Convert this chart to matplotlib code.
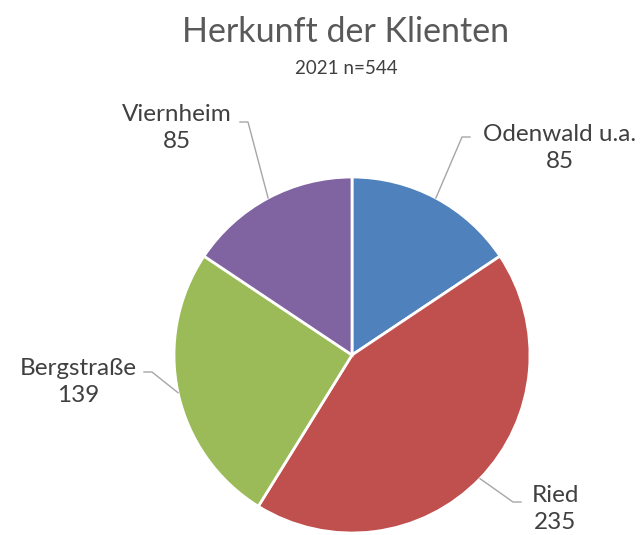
import numpy as np
import matplotlib.pyplot as plt

# data
labels = ["Odenwald u.a.", "Ried", "Bergstraße", "Viernheim"]
values = [85, 235, 139, 85]
colors = ["#4F81BD", "#C0504D", "#9BBB59", "#8064A2"]

# label text anchor (pixels from top-left) and elbow point of the leader
label_pos = [(560, 148), (555, 509), (78, 382), (177, 128)]
elbow = [(462, 137), (513, 502), (152, 372), (248, 122)]

W, H = 643, 535
fig = plt.figure(figsize=(W / 100, H / 100), dpi=100)
ax = fig.add_axes([0, 0, 1, 1])

cx, cy, r = 352, H - 355, 178
ax.pie(values, colors=colors, startangle=90, counterclock=False,
       center=(cx, cy), radius=r, frame=True,
       wedgeprops=dict(edgecolor="white", linewidth=2))
ax.set_xlim(0, W)
ax.set_ylim(0, H)
ax.axis("off")

font = "Lato"
ax.text(346, H - 32, "Herkunft der Klienten", ha="center", va="center",
        fontsize=24.5, color="#595959", family=font)
ax.text(346, H - 68, "2021 n=544", ha="center", va="center",
        fontsize=13.5, color="#404040", family=font)

total = sum(values)
start = 0.0
for lab, v, (lx, ly), (ex, ey) in zip(labels, values, label_pos, elbow):
    mid = start + v / total * 180
    start += v / total * 360
    ang = np.deg2rad(mid)
    px = cx + r * np.sin(ang)
    py = cy + r * np.cos(ang)
    # leader line: edge point -> elbow -> towards the text
    step = -8 if ex > lx else 8
    ax.plot([px, ex, ex + step], [py, H - ey, H - ey], color="#A6A6A6", lw=1)
    ax.text(lx, H - ly, f"{lab}\n{v}", ha="center", va="center",
            fontsize=17.5, color="#404040", family=font, linespacing=1.38)

fig.savefig("out.png", dpi=100)
